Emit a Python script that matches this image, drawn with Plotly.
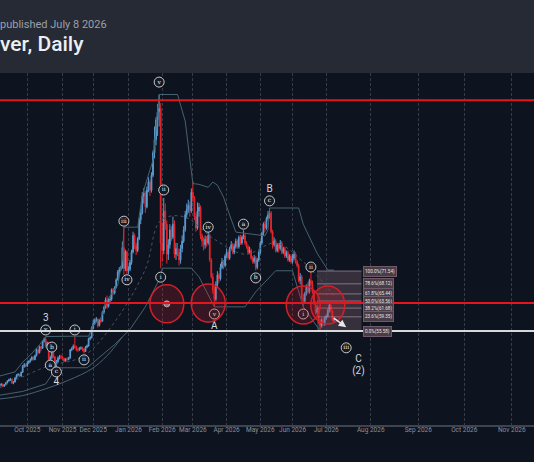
import pandas as pd
import plotly.graph_objects as go

# ---------------- data ----------------
first_day = "2025-09-05"
last_day = "2026-07-08"

opens = [
    # Sep
    41.0, 41.2, 41.4, 40.9, 41.3, 41.8, 42.3, 42.6, 42.8, 41.7, 42.0, 43.1, 43.8, 44.0, 43.6, 44.6, 46.2, 46.6,
    # Oct
    46.3, 47.1, 47.5, 48.0, 48.6, 48.0, 49.0, 50.6, 49.8, 51.4, 51.0, 52.8, 53.4, 51.6, 52.4, 48.0, 48.5, 49.8, 48.7, 46.7, 47.4, 48.4, 48.8,
    # Nov
    48.6, 48.2, 47.6, 48.1, 48.0, 48.4, 50.6, 50.9, 51.6, 51.2, 50.6, 50.6, 50.9, 51.1, 50.8, 50.1, 51.3, 51.6, 53.5, 53.8,
    # Dec
    56.4, 57.6, 58.4, 58.7, 57.0, 58.5, 58.2, 60.6, 61.8, 63.8, 62.1, 63.9, 64.0, 66.6, 65.7, 67.1, 69.2, 71.3, 71.9, 72.4, 77.8, 72.2, 76.6,
    # Jan
    71.6, 72.0, 73.8, 76.6, 81.0, 78.2, 77.0, 80.1, 85.2, 87.0, 91.4, 92.3, 88.6, 93.1, 95.2, 93.0, 97.0, 103.0, 106.5, 111.8, 113.9, 114.8,
    # Feb
    79.0, 77.0, 87.5, 84.0, 76.0, 78.5, 82.5, 80.5, 84.0, 76.0, 77.5, 76.5, 74.5, 77.5, 79.5, 82.5, 86.5, 88.0, 89.0, 87.5,
    # Mar
    92.5, 91.0, 86.0, 83.0, 87.5, 88.5, 81.0, 79.5, 78.5, 80.0, 79.0, 81.0, 74.5, 70.0, 66.5, 64.0, 68.0, 70.5, 69.5, 72.5, 74.0, 73.0,
    # Apr
    75.5, 76.5, 75.0, 77.5, 78.5, 76.5, 78.0, 79.5, 78.0, 80.5, 79.0, 80.5, 81.0, 79.0, 78.0, 76.5, 77.0, 75.0, 74.0, 75.0, 72.5, 74.5,
    # May
    76.5, 79.0, 81.5, 84.0, 83.0, 85.5, 86.5, 87.0, 82.0, 78.5, 79.5, 77.0, 78.5, 77.5, 79.0, 76.5, 77.5, 75.5, 76.5, 74.5, 75.5,
    # Jun
    74.0, 75.0, 76.0, 74.0, 73.0, 69.0, 70.0, 64.5, 63.5, 65.5, 67.5, 66.0, 69.0, 68.0, 66.0, 63.0, 60.5, 61.5, 58.0, 57.0, 58.5, 57.5,
    # Jul
    59.0, 59.5, 61.0, 62.5, 61.0, 58.5,
]
highs = [
    41.6, 41.7, 41.6, 41.5, 42.0, 42.5, 42.9, 43.1, 42.9, 42.3, 43.3, 44.1, 44.4, 44.2, 44.8, 46.5, 47.1, 46.9,
    47.6, 47.8, 48.3, 48.9, 48.8, 49.3, 51.0, 50.9, 51.7, 51.6, 53.1, 53.8, 54.1, 52.8, 52.7, 49.0, 50.3, 50.0, 48.9, 47.9, 48.8, 49.2, 49.3,
    48.9, 48.5, 48.4, 48.6, 48.7, 50.8, 51.3, 52.0, 54.2, 51.7, 51.2, 51.3, 51.5, 51.4, 51.0, 51.6, 52.0, 53.8, 54.2, 56.8,
    58.6, 58.9, 59.3, 58.9, 58.8, 59.0, 61.0, 62.2, 64.5, 65.0, 64.3, 64.8, 66.9, 67.0, 67.5, 69.6, 71.8, 72.6, 72.9, 79.4, 83.2, 77.2, 77.0,
    72.8, 74.5, 77.2, 82.0, 81.5, 79.0, 80.6, 85.8, 88.2, 92.5, 93.6, 92.8, 94.0, 96.5, 95.8, 97.8, 103.6, 110.0, 112.5, 116.0, 118.5, 116.2,
    84.5, 91.0, 89.5, 85.0, 80.0, 84.0, 83.5, 86.0, 85.0, 79.0, 79.0, 77.5, 78.5, 81.0, 83.5, 87.5, 89.5, 90.5, 90.0, 93.5,
    95.5, 91.5, 87.0, 89.8, 89.6, 89.0, 81.5, 80.5, 81.0, 80.8, 82.3, 81.5, 75.0, 71.0, 67.5, 68.8, 71.5, 71.0, 73.5, 75.0, 74.5, 76.0,
    77.5, 77.0, 78.0, 79.5, 79.0, 78.8, 80.2, 80.0, 81.0, 81.2, 81.0, 82.4, 81.5, 79.5, 78.5, 78.0, 77.5, 75.5, 75.8, 75.5, 75.0, 77.0,
    79.5, 82.0, 84.5, 84.8, 86.0, 87.5, 88.3, 87.5, 82.5, 80.5, 80.0, 79.0, 79.0, 79.8, 79.5, 78.0, 78.0, 77.0, 77.0, 76.0, 76.0,
    76.0, 77.0, 76.5, 74.5, 73.5, 71.0, 70.5, 65.5, 66.0, 68.0, 68.5, 69.5, 71.54, 69.0, 66.5, 63.5, 62.5, 62.0, 58.8, 59.0, 59.2, 59.5,
    60.0, 61.5, 63.3, 62.8, 61.2, 59.5,
]
lows = [
    40.7, 40.9, 40.6, 40.7, 41.1, 41.6, 42.1, 42.3, 41.5, 41.4, 41.9, 42.9, 43.5, 43.3, 43.4, 44.4, 45.8, 45.9,
    46.0, 46.8, 47.2, 47.7, 47.7, 47.8, 48.8, 49.4, 49.6, 50.3, 50.8, 52.5, 51.2, 51.0, 47.6, 47.2, 48.0, 48.3, 46.4, 46.0, 47.1, 48.0, 48.1,
    47.9, 47.3, 47.4, 47.7, 47.8, 48.2, 50.2, 50.6, 50.9, 50.2, 50.0, 50.3, 50.6, 50.2, 49.6, 50.0, 51.0, 51.4, 53.1, 53.6,
    56.1, 57.2, 57.9, 56.5, 56.8, 57.6, 58.0, 60.1, 61.5, 61.5, 61.8, 63.0, 63.6, 65.1, 65.3, 66.9, 69.0, 70.5, 71.5, 72.2, 70.5, 71.5, 70.6,
    70.8, 71.5, 73.2, 76.2, 77.4, 75.8, 76.5, 79.8, 84.0, 86.5, 89.5, 87.0, 88.2, 92.5, 91.5, 92.4, 96.5, 101.5, 105.0, 107.5, 110.0, 72.3,
    74.0, 76.0, 82.5, 73.5, 74.5, 77.5, 79.5, 80.0, 75.0, 74.5, 75.5, 73.0, 73.5, 76.5, 79.0, 82.0, 85.5, 87.0, 86.0, 87.0,
    90.0, 85.0, 82.0, 82.5, 86.0, 80.0, 78.0, 77.0, 77.5, 78.0, 78.5, 74.0, 69.5, 65.5, 62.0, 63.5, 67.0, 68.5, 69.0, 72.0, 72.0, 72.5,
    75.0, 74.5, 74.5, 77.0, 76.0, 76.0, 77.5, 77.5, 77.5, 78.5, 78.5, 80.0, 78.5, 77.5, 76.0, 76.0, 74.5, 73.5, 73.5, 71.7, 72.0, 74.0,
    76.0, 78.5, 81.0, 82.0, 82.5, 85.0, 85.5, 81.5, 77.5, 78.0, 76.5, 76.5, 76.5, 77.0, 76.0, 76.0, 75.0, 75.0, 74.0, 74.0, 73.5,
    73.5, 74.5, 73.5, 72.5, 68.5, 68.0, 64.0, 61.8, 63.0, 65.0, 65.5, 65.5, 67.5, 65.5, 62.5, 60.0, 60.0, 57.5, 55.58, 56.5, 57.0, 57.0,
    58.5, 59.2, 60.5, 60.5, 58.2, 58.0,
]
closes = [
    41.2, 41.4, 40.9, 41.3, 41.8, 42.3, 42.6, 42.8, 41.7, 42.0, 43.1, 43.8, 44.0, 43.6, 44.6, 46.2, 46.6, 46.3,
    47.1, 47.5, 48.0, 48.6, 48.0, 49.0, 50.6, 49.8, 51.4, 51.0, 52.8, 53.4, 51.6, 52.4, 48.0, 48.5, 49.8, 48.7, 46.7, 47.4, 48.4, 48.8, 48.6,
    48.2, 47.6, 48.1, 48.0, 48.4, 50.6, 50.9, 51.6, 51.2, 50.6, 50.6, 50.9, 51.1, 50.8, 50.1, 51.3, 51.6, 53.5, 53.8, 56.4,
    57.6, 58.4, 58.7, 57.0, 58.5, 58.2, 60.6, 61.8, 63.8, 62.1, 63.9, 64.0, 66.6, 65.7, 67.1, 69.2, 71.3, 71.9, 72.4, 77.8, 72.2, 76.6, 71.6,
    72.0, 73.8, 76.6, 81.0, 78.2, 77.0, 80.1, 85.2, 87.0, 91.4, 92.3, 88.6, 93.1, 95.2, 93.0, 97.0, 103.0, 106.5, 111.8, 113.9, 114.8, 79.0,
    77.0, 87.5, 84.0, 76.0, 78.5, 82.5, 80.5, 84.0, 76.0, 77.5, 76.5, 74.5, 77.5, 79.5, 82.5, 86.5, 88.0, 89.0, 87.5, 92.5,
    91.0, 86.0, 83.0, 87.5, 88.5, 81.0, 79.5, 78.5, 80.0, 79.0, 81.0, 74.5, 70.0, 66.5, 64.0, 68.0, 70.5, 69.5, 72.5, 74.0, 73.0, 75.5,
    76.5, 75.0, 77.5, 78.5, 76.5, 78.0, 79.5, 78.0, 80.5, 79.0, 80.5, 81.0, 79.0, 78.0, 76.5, 77.0, 75.0, 74.0, 75.0, 72.5, 74.5, 76.5,
    79.0, 81.5, 84.0, 83.0, 85.5, 86.5, 87.0, 82.0, 78.5, 79.5, 77.0, 78.5, 77.5, 79.0, 76.5, 77.5, 75.5, 76.5, 74.5, 75.5, 74.0,
    75.0, 76.0, 74.0, 73.0, 69.0, 70.0, 64.5, 63.5, 65.5, 67.5, 66.0, 69.0, 68.0, 66.0, 63.0, 60.5, 61.5, 58.0, 57.0, 58.5, 57.5, 59.0,
    59.5, 61.0, 62.5, 61.0, 58.5, 58.8,
]

# indicator envelope lines (vertex dates / values)
upper_dates = ["2025-09-05", "2025-09-19", "2025-09-26", "2025-10-03", "2025-10-13", "2025-10-17", "2025-11-13",
               "2025-11-26", "2025-12-01", "2025-12-08", "2025-12-12", "2025-12-23", "2025-12-26", "2025-12-29",
               "2026-01-09", "2026-01-14", "2026-01-23", "2026-01-29", "2026-02-16", "2026-02-23", "2026-03-02",
               "2026-03-06", "2026-03-16", "2026-03-19", "2026-03-24", "2026-03-30", "2026-04-03", "2026-04-09",
               "2026-05-06", "2026-05-08", "2026-05-11", "2026-06-05", "2026-06-10", "2026-06-23", "2026-07-02",
               "2026-07-08"]
upper_vals = [43.6, 44.7, 47.3, 49.2, 51.9, 54.1, 54.2, 54.2, 57.2, 59.0, 63.8, 67.8, 74.5, 83.2,
              83.2, 91.8, 101.0, 118.5, 118.5, 111.4, 94.8, 94.6, 93.8, 95.2, 94.4, 91.2, 86.4, 81.9,
              80.9, 82.5, 88.3, 88.3, 84.0, 76.3, 71.8, 71.8]
lower_dates = ["2025-09-05", "2025-09-26", "2025-10-17", "2025-10-28", "2025-11-25", "2025-12-05", "2025-12-19",
               "2026-01-02", "2026-01-16", "2026-01-30", "2026-02-02", "2026-02-27", "2026-03-06", "2026-03-20",
               "2026-04-17", "2026-04-28", "2026-05-15", "2026-06-01", "2026-06-10", "2026-06-25", "2026-07-08"]
lower_vals = [38.5, 39.5, 41.5, 45.8, 45.8, 48.5, 52.0, 56.0, 62.0, 70.0, 72.3, 72.3, 70.0, 62.0,
              62.0, 66.0, 71.6, 71.6, 62.0, 55.6, 55.6]
outer_dates = ["2025-09-05", "2025-09-26", "2025-10-17", "2025-11-07", "2025-11-28", "2025-12-12", "2025-12-26"]
outer_vals = [37.5, 38.4, 40.2, 42.5, 45.5, 49.0, 54.0]
mid_dates = ["2025-09-05", "2025-10-17", "2025-11-21", "2025-12-19", "2026-01-16", "2026-01-30", "2026-02-20",
             "2026-03-20", "2026-04-17", "2026-05-15", "2026-06-10", "2026-07-08"]
mid_vals = [40.5, 46.0, 49.0, 58.0, 72.0, 85.0, 86.0, 80.0, 76.0, 79.0, 74.0, 65.0]

# horizontal levels
red_levels = [117.0, 63.03]
white_level = 55.58

# fibonacci retracement
fib_start, fib_end = "2026-06-23", "2026-07-26"
fib_low, fib_high = 55.58, 71.54
fib_ratios = [1.0, 0.786, 0.618, 0.5, 0.382, 0.236, 0.0]
fib_texts = ["100.0%(71.54)", "78.6%(68.12)", "61.8%(65.44)", "50.0%(63.56)", "38.2%(61.68)", "23.6%(59.35)", "0.0%(55.58)"]

# circled wave labels
wave_dates = ["2025-10-17", "2025-10-23", "2025-10-22", "2025-10-28", "2025-11-13", "2025-11-21", "2025-12-29",
              "2025-12-31", "2026-01-29", "2026-01-30", "2026-02-03", "2026-03-16", "2026-03-20", "2026-04-16",
              "2026-04-28", "2026-05-11", "2026-06-10", "2026-06-17", "2026-07-16"]
wave_prices = [55.85, 51.3, 46.5, 44.7, 55.85, 47.9, 84.8, 69.2, 121.8, 69.9, 93.1, 83.2, 60.1, 84.0,
               69.7, 90.2, 60.1, 72.6, 51.1]
wave_texts = ["v", "b", "a", "c", "i", "ii", "iii", "iv", "v", "i", "ii", "iv", "v", "a", "b", "c", "i", "ii", "iii"]

# degree labels
deg_dates = ["2025-10-17", "2025-10-28", "2026-03-20", "2026-05-11", "2026-07-24", "2026-07-24"]
deg_prices = [58.8, 42.0, 56.9, 93.1, 47.9, 44.9]
deg_texts = ["3", "4", "A", "B", "C", "(2)"]

# highlighted zones (red circles)
zone_dates = ["2026-02-05", "2026-03-16", "2026-06-10", "2026-07-02"]
zone_prices = [62.8, 63.0, 62.5, 62.5]

# projection arrow
arrow_from = ("2026-07-07", 59.3)
arrow_to = ("2026-07-16", 56.6)

tick_vals = ["2025-10-01", "2025-11-03", "2025-12-01", "2026-01-01", "2026-02-02", "2026-03-02", "2026-04-01",
             "2026-05-01", "2026-06-01", "2026-07-01", "2026-08-01", "2026-09-01", "2026-10-01", "2026-11-01"]
tick_text = ["Oct 2025", "Nov 2025", "Dec 2025", "Jan 2026", "Feb 2026", "Mar 2026", "Apr 2026",
             "May 2026", "Jun 2026", "Jul 2026", "Aug 2026", "Sep 2026", "Oct 2026", "Nov 2026"]

header_sub = "published July 8 2026"
header_title = "ver, Daily"

# ---------------- figure ----------------
dates = pd.bdate_range(first_day, last_day)
assert len(dates) == len(opens) == len(highs) == len(lows) == len(closes)

all_days = pd.date_range(first_day, "2026-07-06")
weekend_days = [d.strftime("%Y-%m-%d") for d in all_days if d.weekday() >= 5]

BG = "#0e1320"
HEADER = "#262a35"
UP = "#5d9dd2"
DOWN = "#e5262c"
BAND = "#46626e"

fig = go.Figure()

fig.add_trace(go.Scatter(x=mid_dates, y=mid_vals, mode="lines",
                         line=dict(color="#4b525c", width=1, dash="dot", shape="spline"), hoverinfo="skip"))
fig.add_trace(go.Scatter(x=outer_dates, y=outer_vals, mode="lines",
                         line=dict(color=BAND, width=1, shape="spline"), hoverinfo="skip"))
fig.add_trace(go.Scatter(x=upper_dates, y=upper_vals, mode="lines", line=dict(color=BAND, width=1), hoverinfo="skip"))
fig.add_trace(go.Scatter(x=lower_dates, y=lower_vals, mode="lines", line=dict(color=BAND, width=1), hoverinfo="skip"))

fig.add_trace(go.Candlestick(
    x=dates, open=opens, high=highs, low=lows, close=closes,
    increasing=dict(line=dict(color=UP, width=1), fillcolor=UP),
    decreasing=dict(line=dict(color=DOWN, width=1), fillcolor=DOWN),
    whiskerwidth=0,
))

shapes = []
shapes.append(dict(type="rect", xref="paper", yref="paper", x0=0, x1=1, y0=1.0, y1=1.25,
                   fillcolor=HEADER, line=dict(width=0), layer="below"))
shapes.append(dict(type="rect", xref="x", yref="y", x0=fib_start, x1=fib_end, y0=fib_low, y1=fib_high,
                   fillcolor="rgba(150,115,130,0.30)", line=dict(width=0), layer="below"))
for r in fib_ratios:
    lvl = fib_low + r * (fib_high - fib_low)
    shapes.append(dict(type="line", xref="x", yref="y", x0=fib_start, x1=fib_end, y0=lvl, y1=lvl,
                       line=dict(color="rgba(200,170,185,0.55)", width=1)))
for lvl in red_levels:
    shapes.append(dict(type="line", xref="paper", yref="y", x0=0, x1=1, y0=lvl, y1=lvl,
                       line=dict(color="#e8141c", width=2)))
shapes.append(dict(type="line", xref="paper", yref="y", x0=0, x1=1, y0=white_level, y1=white_level,
                   line=dict(color="#d8d8d8", width=2)))
for d, p in zip(zone_dates, zone_prices):
    shapes.append(dict(type="circle", xref="x", yref="y", xsizemode="pixel", ysizemode="pixel",
                       xanchor=d, yanchor=p, x0=-17, x1=17, y0=-19, y1=19,
                       fillcolor="rgba(210,30,40,0.22)", line=dict(color="#d0202a", width=1.5)))

annotations = []
for r, t in zip(fib_ratios, fib_texts):
    lvl = fib_low + r * (fib_high - fib_low)
    annotations.append(dict(x=fib_end, y=lvl, xref="x", yref="y", text=t, showarrow=False, xanchor="left",
                            xshift=1, font=dict(size=4.6, color="#e6e6e6", family="Roboto"),
                            bgcolor="#4a3c47", bordercolor="#6e5a68", borderwidth=1, borderpad=1))
annotations.append(dict(x=arrow_to[0], y=arrow_to[1], ax=arrow_from[0], ay=arrow_from[1], axref="x", ayref="y",
                        xref="x", yref="y", text="", showarrow=True, arrowhead=2, arrowsize=1, arrowwidth=1.5,
                        arrowcolor="#e8e8e8"))
annotations.append(dict(x=0, y=(425 - 25) / 352, xref="paper", yref="paper", text=header_sub,
                        showarrow=False, xanchor="left", yanchor="middle", xshift=-2,
                        font=dict(size=11, color="#9aa0aa", family="Roboto")))
annotations.append(dict(x=0, y=(425 - 44) / 352, xref="paper", yref="paper", text=header_title,
                        showarrow=False, xanchor="left", yanchor="middle", xshift=-2,
                        font=dict(size=21, color="#eceff4", family="Roboto", weight=500)))

fig.add_trace(go.Scatter(x=[zone_dates[0]], y=[zone_prices[0]], mode="markers",
                         marker=dict(symbol="circle", size=6, color="#8a8a95", line=dict(color="#cfcfcf", width=1)),
                         hoverinfo="skip"))
fig.add_trace(go.Scatter(x=wave_dates, y=wave_prices, mode="markers+text", text=wave_texts,
                         textposition="middle center", textfont=dict(size=6, color="#eeeeee", family="DejaVu Serif"),
                         marker=dict(size=10, color="#141925", line=dict(color="#c8c8c8", width=1)),
                         hoverinfo="skip"))
fig.add_trace(go.Scatter(x=deg_dates, y=deg_prices, mode="text", text=deg_texts, textposition="middle center",
                         textfont=dict(size=10, color="#d8d8d8", family="Roboto"), hoverinfo="skip"))

fig.update_layout(
    width=534, height=462,
    margin=dict(l=0, r=0, t=73, b=37),
    paper_bgcolor=BG, plot_bgcolor=BG,
    showlegend=False,
    shapes=shapes, annotations=annotations,
    xaxis=dict(
        type="date",
        range=["2025-09-05 04:48", "2026-11-15 12:00"],
        rangebreaks=[dict(values=weekend_days)],
        rangeslider=dict(visible=False),
        tickvals=tick_vals, ticktext=tick_text,
        tickfont=dict(size=6.5, color="#8b909a", family="Roboto"),
        ticklabelstandoff=-3,
        showgrid=True, gridcolor="#363b47", griddash="3px,2px", gridwidth=1,
        showline=True, linecolor="#3e4350", linewidth=2,
        ticks="", zeroline=False,
    ),
    yaxis=dict(range=[30.57, 124.22], visible=False, showgrid=False, zeroline=False),
)

fig.write_html("out.html")
